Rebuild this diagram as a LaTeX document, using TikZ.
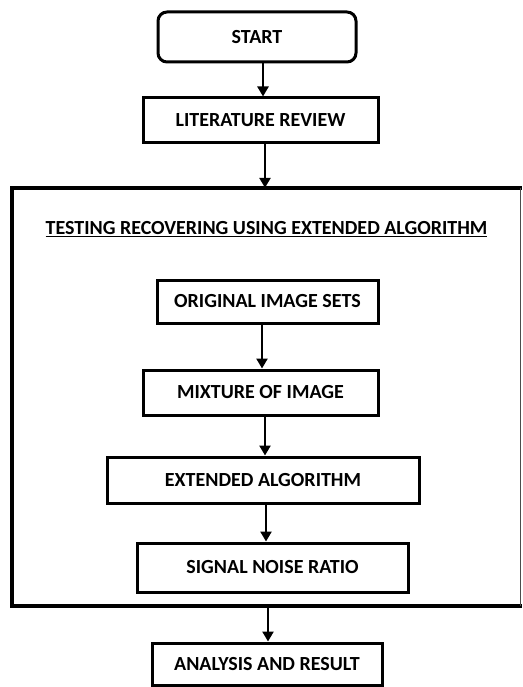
\documentclass[tikz,border=0pt]{standalone}
\usepackage{fontspec}
\setmainfont{Carlito}
\usetikzlibrary{arrows.meta}
\begin{document}
\begin{tikzpicture}[x=1pt,y=-1pt,
  box/.style={draw, line width=3pt, rectangle, inner sep=0pt, font=\bfseries\fontsize{20}{24}\selectfont},
  arr/.style={-{Triangle[length=10pt,width=11pt]}, line width=2.6pt}]
\useasboundingbox (0,0) rectangle (522,687);
\node[box, rounded corners=9pt, minimum width=198pt, minimum height=50pt] (start) at (257,37) {START};
\node[box, minimum width=235pt, minimum height=45pt] (lit) at (260.5,120.5) {LITERATURE REVIEW};
\node[inner sep=0pt, minimum width=508pt, minimum height=418pt] (frame) at (266,397) {};
\draw[line width=3.5pt, line cap=rect] (frame.north east) -- (frame.north west) -- (frame.south west) -- (frame.south east);
\draw[line width=1pt, black!70] (frame.north east) -- (frame.south east);
\node[font=\bfseries\fontsize{20}{24}\selectfont, inner sep=0pt] (title) at (266.5,229) {\underline{TESTING RECOVERING USING EXTENDED ALGORITHM}};
\node[box, minimum width=221pt, minimum height=43pt] (orig) at (267.5,301.5) {ORIGINAL IMAGE SETS};
\node[box, minimum width=235pt, minimum height=45pt] (mix) at (260.5,392.5) {MIXTURE OF IMAGE};
\node[box, minimum width=312pt, minimum height=46pt] (ext) at (263,480) {EXTENDED ALGORITHM};
\node[box, minimum width=271pt, minimum height=49pt] (sig) at (272.5,567.5) {SIGNAL NOISE RATIO};
\node[box, minimum width=230pt, minimum height=42pt] (ana) at (267,664) {ANALYSIS AND RESULT};
\coordinate (a1) at (263,0);
\coordinate (a2) at (265,0);
\coordinate (a3) at (262,0);
\coordinate (a4) at (265,0);
\coordinate (a5) at (266,0);
\coordinate (a6) at (268,0);
\draw[arr] (start.south -| a1) -- (lit.north -| a1);
\draw[arr] (lit.south -| a2) -- (frame.north -| a2);
\draw[arr] (orig.south -| a3) -- (mix.north -| a3);
\draw[arr] (mix.south -| a4) -- (ext.north -| a4);
\draw[arr] (ext.south -| a5) -- (sig.north -| a5);
\draw[arr] (frame.south -| a6) -- (ana.north -| a6);
\end{tikzpicture}
\end{document}
